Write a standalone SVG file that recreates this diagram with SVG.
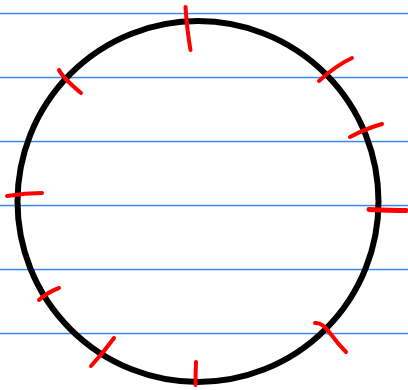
<svg xmlns="http://www.w3.org/2000/svg" width="408" height="390" viewBox="0 0 408 390">
<style>
.tick{stroke:#ff0000;stroke-width:4;stroke-linecap:round;fill:none}
</style>
<rect width="408" height="390" fill="#ffffff"/>
<g id="rules" fill="#3d88ee">
<rect x="0" y="12.8" width="408" height="1.5"/>
<rect x="0" y="76.8" width="408" height="1.5"/>
<rect x="0" y="140.8" width="408" height="1.5"/>
<rect x="0" y="204.8" width="408" height="1.5"/>
<rect x="0" y="268.8" width="408" height="1.5"/>
<rect x="0" y="332.8" width="408" height="1.5"/>
</g>
<g id="circle">
<circle cx="198" cy="201.5" r="180.5" fill="none" stroke="#000000" stroke-width="6"/>
</g>
<g id="ticks">
<path class="tick" d="M185.5,7 Q187,30 190.5,50"/>
<path class="tick" d="M59,70 Q63,78 81,93"/>
<path class="tick" d="M352,58 Q335,66 319,81"/>
<path class="tick" d="M382,124 Q365,129 350,137"/>
<path class="tick" d="M7,196 Q25,193 42,193"/>
<path class="tick" d="M369,209.5 Q390,210.5 406,210.5" style="stroke-width:5"/>
<path class="tick" d="M39,300 Q48,292 59,288"/>
<path class="tick" d="M315,323 Q322,322 330,333 Q338,344 346,352"/>
<path class="tick" d="M91,366 Q104,352 114,338"/>
<path class="tick" d="M196,362 Q195.5,374 195.5,385"/>
</g>
</svg>
